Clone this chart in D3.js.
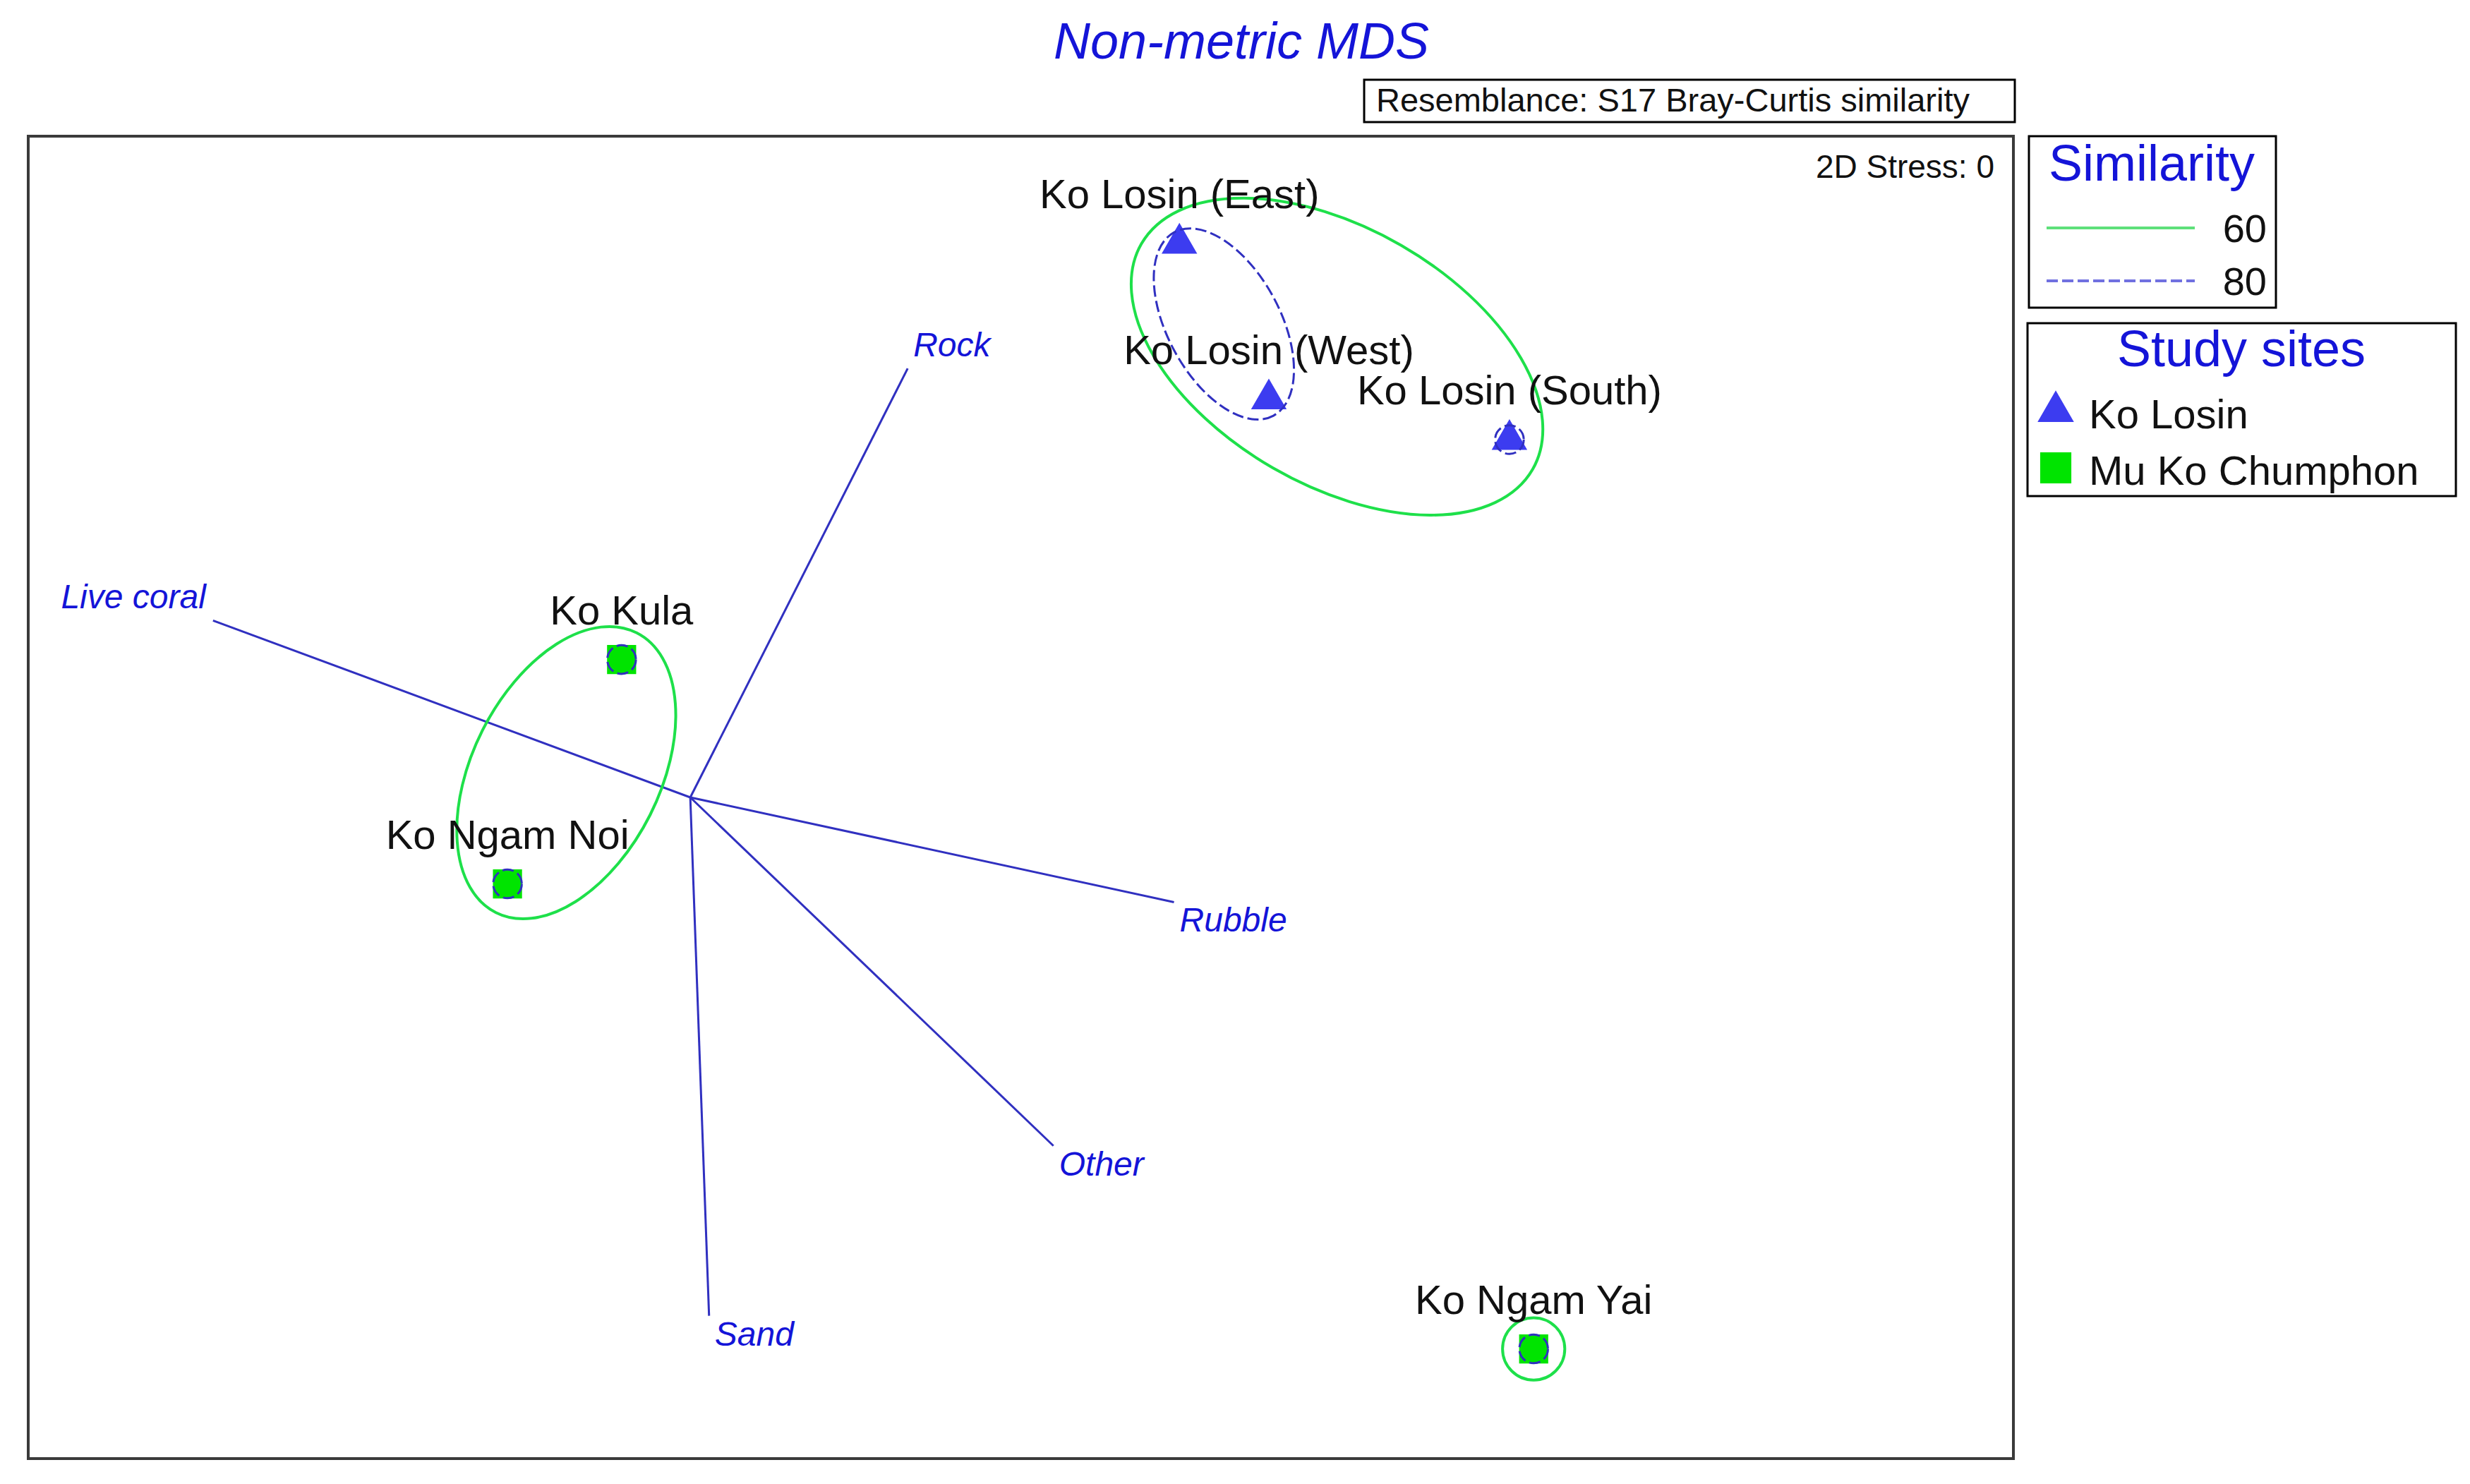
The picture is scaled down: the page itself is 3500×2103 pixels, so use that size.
<!DOCTYPE html>
<html>
<head>
<meta charset="utf-8">
<script src="https://cdn.jsdelivr.net/npm/d3@7"></script>
<style>
  body { margin: 0; background: #fff; }
  text { font-family: "Liberation Sans", Arial, sans-serif; }
</style>
</head>
<body>
<div id="chart"></div>
<script>
// sites (MDS coordinates)
var siteNames = ["Ko Losin (East)", "Ko Losin (West)", "Ko Losin (South)", "Ko Kula", "Ko Ngam Noi", "Ko Ngam Yai"];
var siteGroup = ["Ko Losin", "Ko Losin", "Ko Losin", "Mu Ko Chumphon", "Mu Ko Chumphon", "Mu Ko Chumphon"];
var siteX = [0.321, 0.502, 0.989, -0.808, -1.039, 1.038];
var siteY = [1.121, 0.806, 0.724, 0.279, -0.175, -1.116];

// substrate vectors
var vectorNames = ["Rock", "Live coral", "Rubble", "Other", "Sand"];
var vectorX = [0.440, -0.966, 0.979, 0.735, 0.038];
var vectorY = [0.868, 0.358, -0.212, -0.705, -1.049];
var vectorOrigin = [-0.669, 0.0];

// similarity clusters
var clusterLevel = [60, 60, 60, 80, 80, 80, 80, 80];
var clusterCx = [0.640, -0.920, 1.038, 0.411, 0.989, -0.808, -1.039, 1.038];
var clusterCy = [0.892, 0.050, -1.116, 0.958, 0.724, 0.279, -0.175, -1.116];
var clusterRx = [0.457, 0.317, 0.063, 0.211, 0.029, 0.029, 0.029, 0.029];
var clusterRy = [0.260, 0.190, 0.063, 0.114, 0.029, 0.029, 0.029, 0.029];
var clusterAngle = [30, -63.3, 0, 61.6, 0, 0, 0, 0];

var similarityLevels = [60, 80];
var groups = ["Ko Losin", "Mu Ko Chumphon"];

var W = 3500, H = 2103;
var frame = {left: 40, top: 193, right: 2853, bottom: 2067};

var svg = d3.select("#chart").append("svg")
    .attr("width", W)
    .attr("height", H);

var x = d3.scaleLinear().domain([-2.009, 2.009]).range([frame.left, frame.right]);
var y = d3.scaleLinear().domain([-1.338, 1.338]).range([frame.bottom, frame.top]);

var green = "#1ee04a", blueLine = "#3030c0", triBlue = "#3c3cf0", sqGreen = "#00e400", textBlue = "#1414d8";

// title
svg.append("text")
    .attr("x", 1759).attr("y", 83)
    .attr("text-anchor", "middle")
    .style("font-size", "72px").style("font-style", "italic")
    .attr("fill", textBlue)
    .text("Non-metric MDS");

// resemblance box
svg.append("rect")
    .attr("x", 1933).attr("y", 113).attr("width", 922).attr("height", 60)
    .attr("fill", "none").attr("stroke", "#000").attr("stroke-width", 3);
svg.append("text")
    .attr("x", 1950).attr("y", 158)
    .style("font-size", "47px")
    .attr("fill", "#111")
    .text("Resemblance: S17 Bray-Curtis similarity");

// plot frame
svg.append("rect")
    .attr("x", frame.left).attr("y", frame.top)
    .attr("width", frame.right - frame.left).attr("height", frame.bottom - frame.top)
    .attr("fill", "none").attr("stroke", "#3a3a3a").attr("stroke-width", 4);

svg.append("text")
    .attr("x", 2826).attr("y", 252)
    .attr("text-anchor", "end")
    .style("font-size", "46px")
    .attr("fill", "#111")
    .text("2D Stress: 0");

// vectors
var vecs = vectorNames.map(function(n, i) { return {name: n, dx: vectorX[i], dy: vectorY[i]}; });
var ox = x(vectorOrigin[0]), oy = y(vectorOrigin[1]);
svg.append("g").selectAll("line")
    .data(vecs).enter().append("line")
    .attr("x1", ox).attr("y1", oy)
    .attr("x2", function(d) { return x(vectorOrigin[0] + d.dx); })
    .attr("y2", function(d) { return y(vectorOrigin[1] + d.dy); })
    .attr("stroke", blueLine).attr("stroke-width", 3);
svg.append("g").selectAll("text")
    .data(vecs).enter().append("text")
    .attr("x", function(d) { return x(vectorOrigin[0] + d.dx) + (d.dx < -0.5 ? -10 : 8); })
    .attr("y", function(d) { return y(vectorOrigin[1] + d.dy) + (d.dy > 0 ? -17 : 42); })
    .attr("text-anchor", function(d) { return d.dx < -0.5 ? "end" : "start"; })
    .style("font-size", "48px").style("font-style", "italic")
    .attr("fill", textBlue)
    .text(function(d) { return d.name; });

var clusters = clusterLevel.map(function(l, i) {
    return {level: l, cx: clusterCx[i], cy: clusterCy[i], rx: clusterRx[i], ry: clusterRy[i], a: clusterAngle[i]};
});
var px = x(1) - x(0);

function drawClusters(level) {
    svg.append("g").selectAll("ellipse")
        .data(clusters.filter(function(c) { return c.level === level; }))
        .enter().append("ellipse")
        .attr("transform", function(d) { return "translate(" + x(d.cx) + "," + y(d.cy) + ") rotate(" + d.a + ")"; })
        .attr("rx", function(d) { return d.rx * px; })
        .attr("ry", function(d) { return d.ry * px; })
        .attr("fill", "none")
        .attr("stroke", level === 60 ? green : blueLine)
        .attr("stroke-width", level === 60 ? 4 : 3)
        .attr("stroke-dasharray", level === 60 ? null : "16,6");
}
drawClusters(60);

// sites
var sites = siteNames.map(function(n, i) { return {name: n, group: siteGroup[i], x: siteX[i], y: siteY[i]}; });
var tri = d3.symbol().type(d3.symbolTriangle).size(1100);
var sq = d3.symbol().type(d3.symbolSquare).size(1700);

svg.append("g").selectAll("text")
    .data(sites).enter().append("text")
    .attr("x", function(d) { return x(d.x); })
    .attr("y", function(d) { return y(d.y) - 50; })
    .attr("text-anchor", "middle")
    .style("font-size", "58px")
    .attr("fill", "#111")
    .text(function(d) { return d.name; });

svg.append("g").selectAll("path")
    .data(sites).enter().append("path")
    .attr("transform", function(d) { return "translate(" + x(d.x) + "," + y(d.y) + ")"; })
    .attr("d", function(d) { return d.group === "Ko Losin" ? tri() : sq(); })
    .attr("fill", function(d) { return d.group === "Ko Losin" ? triBlue : sqGreen; });

drawClusters(80);

// legend: similarity
svg.append("rect")
    .attr("x", 2875).attr("y", 193).attr("width", 350).attr("height", 243)
    .attr("fill", "none").attr("stroke", "#000").attr("stroke-width", 3);
svg.append("text")
    .attr("x", 3049).attr("y", 256)
    .attr("text-anchor", "middle")
    .style("font-size", "72px")
    .attr("fill", textBlue)
    .text("Similarity");
var simRows = [323, 398];
similarityLevels.forEach(function(l, i) {
    svg.append("line")
        .attr("x1", 2900).attr("x2", 3110)
        .attr("y1", simRows[i]).attr("y2", simRows[i])
        .attr("stroke", l === 60 ? "#5ee07a" : "#7070e0")
        .attr("stroke-width", 4)
        .attr("stroke-dasharray", l === 60 ? null : "16,6");
    svg.append("text")
        .attr("x", 3212).attr("y", simRows[i] + 20)
        .attr("text-anchor", "end")
        .style("font-size", "56px")
        .attr("fill", "#111")
        .text(l);
});

// legend: study sites
svg.append("rect")
    .attr("x", 2873).attr("y", 458).attr("width", 607).attr("height", 245)
    .attr("fill", "none").attr("stroke", "#000").attr("stroke-width", 3);
svg.append("text")
    .attr("x", 3176).attr("y", 519)
    .attr("text-anchor", "middle")
    .style("font-size", "72px")
    .attr("fill", textBlue)
    .text("Study sites");
var grpRows = [583, 663];
groups.forEach(function(g, i) {
    svg.append("path")
        .attr("transform", "translate(2913," + grpRows[i] + ")")
        .attr("d", g === "Ko Losin" ? d3.symbol().type(d3.symbolTriangle).size(1150)() : d3.symbol().type(d3.symbolSquare).size(1950)())
        .attr("fill", g === "Ko Losin" ? triBlue : sqGreen);
    svg.append("text")
        .attr("x", 2960).attr("y", grpRows[i] + 24)
        .style("font-size", "58px")
        .attr("fill", "#111")
        .text(g);
});
</script>
</body>
</html>
